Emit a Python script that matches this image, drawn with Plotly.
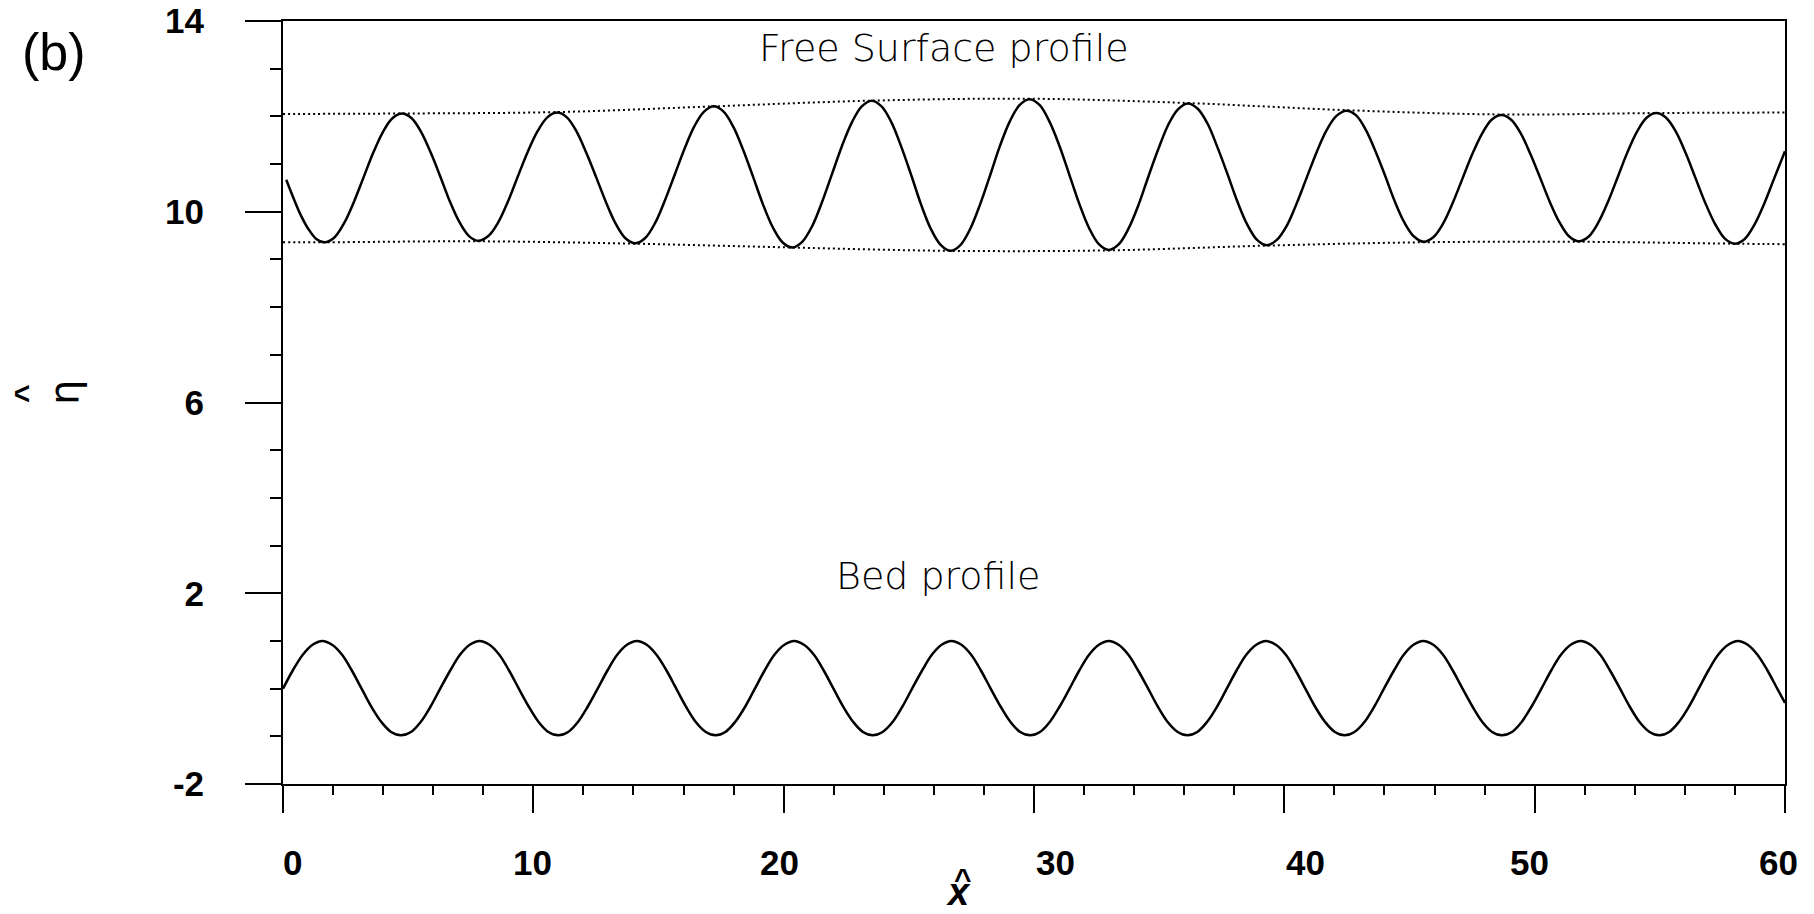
import plotly.graph_objects as go

# ---------------- data ----------------
# Free-surface profile (x-hat, eta-hat)
surf_x = [0.13, 0.40, 0.70, 1.00, 1.33, 1.66,
          2.05, 2.44, 2.82, 3.21, 3.60, 3.99, 4.37, 4.76,
          5.14, 5.52, 5.90, 6.29, 6.67, 7.05, 7.43, 7.81,
          8.20, 8.60, 8.99, 9.38, 9.77, 10.17, 10.56, 10.95,
          11.34, 11.73, 12.12, 12.52, 12.91, 13.30, 13.69, 14.08,
          14.47, 14.86, 15.25, 15.65, 16.04, 16.43, 16.82, 17.21,
          17.60, 17.99, 18.38, 18.78, 19.17, 19.56, 19.95, 20.34,
          20.74, 21.14, 21.53, 21.93, 22.33, 22.73, 23.12, 23.52,
          23.91, 24.31, 24.70, 25.10, 25.49, 25.88, 26.28, 26.67,
          27.06, 27.46, 27.85, 28.25, 28.64, 29.03, 29.43, 29.82,
          30.22, 30.61, 31.01, 31.41, 31.80, 32.20, 32.59, 32.99,
          33.39, 33.78, 34.18, 34.57, 34.97, 35.36, 35.76, 36.15,
          36.54, 36.94, 37.33, 37.73, 38.12, 38.51, 38.91, 39.30,
          39.70, 40.10, 40.49, 40.89, 41.29, 41.69, 42.08, 42.48,
          42.87, 43.25, 43.64, 44.03, 44.41, 44.80, 45.18, 45.57,
          45.96, 46.35, 46.73, 47.12, 47.51, 47.90, 48.28, 48.67,
          49.06, 49.45, 49.83, 50.22, 50.61, 51.00, 51.38, 51.77,
          52.16, 52.54, 52.93, 53.32, 53.70, 54.09, 54.47, 54.86,
          55.25, 55.65, 56.04, 56.43, 56.82, 57.22, 57.61, 58.00,
          58.39, 58.78, 59.17, 59.56, 60.00]
surf_y = [10.67, 10.31, 9.94, 9.65, 9.43, 9.36,
          9.46, 9.76, 10.19, 10.71, 11.23, 11.67, 11.96, 12.06,
          11.96, 11.67, 11.24, 10.73, 10.21, 9.78, 9.49, 9.39,
          9.49, 9.78, 10.22, 10.74, 11.25, 11.69, 11.98, 12.08,
          11.98, 11.68, 11.23, 10.71, 10.19, 9.74, 9.44, 9.34,
          9.45, 9.76, 10.23, 10.78, 11.32, 11.79, 12.10, 12.21,
          12.10, 11.78, 11.30, 10.73, 10.16, 9.68, 9.36, 9.25,
          9.37, 9.70, 10.20, 10.79, 11.38, 11.88, 12.21, 12.33,
          12.21, 11.87, 11.36, 10.76, 10.15, 9.64, 9.30, 9.18,
          9.30, 9.65, 10.16, 10.77, 11.38, 11.89, 12.24, 12.36,
          12.24, 11.90, 11.39, 10.78, 10.18, 9.66, 9.32, 9.20,
          9.32, 9.65, 10.15, 10.74, 11.32, 11.82, 12.15, 12.27,
          12.16, 11.84, 11.35, 10.79, 10.22, 9.74, 9.41, 9.30,
          9.41, 9.71, 10.17, 10.71, 11.25, 11.71, 12.01, 12.12,
          12.02, 11.72, 11.27, 10.75, 10.22, 9.77, 9.48, 9.37,
          9.47, 9.76, 10.19, 10.70, 11.21, 11.64, 11.93, 12.03,
          11.93, 11.64, 11.21, 10.71, 10.20, 9.77, 9.48, 9.38,
          9.48, 9.77, 10.21, 10.73, 11.24, 11.68, 11.97, 12.07,
          11.97, 11.67, 11.22, 10.70, 10.18, 9.73, 9.43, 9.33,
          9.43, 9.73, 10.17, 10.69, 11.27]

# Bed profile
bed_x = [0.00, 0.39, 0.79, 1.18, 1.57, 1.96, 2.36, 2.75, 3.14, 3.53, 3.93, 4.32, 4.71, 5.11, 5.50, 5.89,
         6.28, 6.68, 7.07, 7.46, 7.85, 8.25, 8.64, 9.03, 9.42, 9.82, 10.21, 10.60, 11.00, 11.39, 11.78, 12.17,
         12.57, 12.96, 13.35, 13.74, 14.14, 14.53, 14.92, 15.32, 15.71, 16.10, 16.49, 16.89, 17.28, 17.67, 18.06, 18.46,
         18.85, 19.24, 19.63, 20.03, 20.42, 20.81, 21.21, 21.60, 21.99, 22.38, 22.78, 23.17, 23.56, 23.95, 24.35, 24.74,
         25.13, 25.53, 25.92, 26.31, 26.70, 27.10, 27.49, 27.88, 28.27, 28.67, 29.06, 29.45, 29.85, 30.24, 30.63, 31.02,
         31.42, 31.81, 32.20, 32.59, 32.99, 33.38, 33.77, 34.16, 34.56, 34.95, 35.34, 35.74, 36.13, 36.52, 36.91, 37.31,
         37.70, 38.09, 38.48, 38.88, 39.27, 39.66, 40.06, 40.45, 40.84, 41.23, 41.63, 42.02, 42.41, 42.80, 43.20, 43.59,
         43.98, 44.38, 44.77, 45.16, 45.55, 45.95, 46.34, 46.73, 47.12, 47.52, 47.91, 48.30, 48.69, 49.09, 49.48, 49.87,
         50.27, 50.66, 51.05, 51.44, 51.84, 52.23, 52.62, 53.01, 53.41, 53.80, 54.19, 54.59, 54.98, 55.37, 55.76, 56.16,
         56.55, 56.94, 57.33, 57.73, 58.12, 58.51, 58.90, 59.30, 59.69, 60.00]
bed_y = [0.00, 0.38, 0.71, 0.92, 1.00, 0.92, 0.71, 0.38, 0.00, -0.38, -0.70, -0.91, -0.98, -0.91, -0.70, -0.38,
         0.00, 0.38, 0.71, 0.92, 1.00, 0.92, 0.71, 0.38, 0.00, -0.38, -0.70, -0.91, -0.98, -0.91, -0.70, -0.38,
         0.00, 0.38, 0.71, 0.92, 1.00, 0.92, 0.71, 0.38, 0.00, -0.38, -0.70, -0.91, -0.98, -0.91, -0.70, -0.38,
         0.00, 0.38, 0.71, 0.92, 1.00, 0.92, 0.71, 0.38, 0.00, -0.38, -0.70, -0.91, -0.98, -0.91, -0.70, -0.38,
         0.00, 0.38, 0.71, 0.92, 1.00, 0.92, 0.71, 0.38, 0.00, -0.38, -0.70, -0.91, -0.98, -0.91, -0.70, -0.38,
         0.00, 0.38, 0.71, 0.92, 1.00, 0.92, 0.71, 0.38, 0.00, -0.38, -0.70, -0.91, -0.98, -0.91, -0.70, -0.38,
         0.00, 0.38, 0.71, 0.92, 1.00, 0.92, 0.71, 0.38, 0.00, -0.38, -0.70, -0.91, -0.98, -0.91, -0.70, -0.38,
         0.00, 0.38, 0.71, 0.92, 1.00, 0.92, 0.71, 0.38, 0.00, -0.38, -0.70, -0.91, -0.98, -0.91, -0.70, -0.38,
         0.00, 0.38, 0.71, 0.92, 1.00, 0.92, 0.71, 0.38, 0.00, -0.38, -0.70, -0.91, -0.98, -0.91, -0.70, -0.38,
         0.00, 0.38, 0.71, 0.92, 1.00, 0.92, 0.71, 0.38, 0.00, -0.30]

# Dotted envelopes of the free surface
env_up_x = [0.0, 4.76, 10.95, 17.21, 23.52, 29.82, 36.15, 42.48, 48.67, 54.86, 60.0]
env_up_y = [12.05, 12.06, 12.09, 12.21, 12.33, 12.37, 12.28, 12.13, 12.04, 12.07, 12.08]
env_lo_x = [0.0, 1.66, 7.81, 14.08, 20.34, 26.67, 32.99, 39.30, 45.57, 51.77, 58.00, 60.0]
env_lo_y = [9.36, 9.36, 9.38, 9.33, 9.25, 9.18, 9.19, 9.29, 9.36, 9.37, 9.33, 9.32]

# Axis ticks / labels
x_tick_vals = [0, 10, 20, 30, 40, 50, 60]
x_tick_text = ["0", "10", "20", "30", "40", "50", "60"]
y_tick_vals = [-2, 2, 6, 10, 14]
y_tick_text = ["-2", "2", "6", "10", "14"]

# label placement (styling, kept separate from data)
x_label_pos = [0.37, 9.95, 19.85, 30.85, 40.85, 49.8, 59.75]

W, H = 1814, 914
ML, MR, MT, MB = 283, 29, 21, 130

fig = go.Figure()
line_style = dict(color="black", width=2.5, shape="spline", smoothing=1)
dot_style = dict(color="black", width=2, dash="2px,3px", shape="spline", smoothing=1)

fig.add_trace(go.Scatter(x=env_up_x, y=env_up_y, mode="lines", line=dot_style, hoverinfo="skip"))
fig.add_trace(go.Scatter(x=env_lo_x, y=env_lo_y, mode="lines", line=dot_style, hoverinfo="skip"))
fig.add_trace(go.Scatter(x=surf_x, y=surf_y, mode="lines", line=line_style))
fig.add_trace(go.Scatter(x=bed_x, y=bed_y, mode="lines", line=line_style))

tick_font = dict(family="Liberation Sans, Arial, sans-serif", size=35, color="black", weight="bold")

fig.update_layout(
    width=W, height=H,
    margin=dict(l=ML, r=MR, t=MT, b=MB, pad=0, autoexpand=False),
    paper_bgcolor="white", plot_bgcolor="white",
    showlegend=False,
    xaxis=dict(
        range=[0, 60], showgrid=False, zeroline=False, automargin=False,
        showline=True, linecolor="black", linewidth=2, mirror=True,
        ticks="outside", ticklen=27, tickwidth=2, tickcolor="black",
        tickvals=x_tick_vals, showticklabels=False,
        minor=dict(ticks="outside", ticklen=9, tickwidth=2, tickcolor="black",
                   tick0=0, dtick=2, showgrid=False),
    ),
    yaxis=dict(
        range=[-2, 14], showgrid=False, zeroline=False, automargin=False,
        showline=True, linecolor="black", linewidth=2, mirror=True,
        ticks="outside", ticklen=36, tickwidth=2, tickcolor="black",
        tickvals=y_tick_vals, ticktext=y_tick_text, tickfont=tick_font,
        ticklabelstandoff=34,
        minor=dict(ticks="outside", ticklen=11, tickwidth=2, tickcolor="black",
                   tick0=-2, dtick=1, showgrid=False),
    ),
)

pw = W - ML - MR
ph = H - MT - MB


def px_to_paper(px, py):
    return (px - ML) / pw, (H - MB - py) / ph


ann = []
# x tick labels
for xv, txt in zip(x_label_pos, x_tick_text):
    ann.append(dict(x=xv, xref="x", y=px_to_paper(0, 862)[1], yref="paper",
                    text=txt, showarrow=False, xanchor="center", yanchor="middle",
                    font=tick_font))

text_font = dict(family="DejaVu Sans, sans-serif", size=38, color="black", weight=300)
ann.append(dict(x=26.39, y=13.43, xref="x", yref="y", text="Free Surface profile",
                showarrow=False, xanchor="center", yanchor="middle", font=text_font))
ann.append(dict(x=26.19, y=2.37, xref="x", yref="y", text="Bed profile",
                showarrow=False, xanchor="center", yanchor="middle", font=text_font))

bx, by = px_to_paper(54, 52)
ann.append(dict(x=bx, y=by, xref="paper", yref="paper", text="(b)", showarrow=False,
                xanchor="center", yanchor="middle",
                font=dict(family="Liberation Sans, Arial, sans-serif", size=52, color="black")))

# x-axis title: bold italic x with a hat
xx, xy = px_to_paper(958, 892)
ann.append(dict(x=xx, y=xy, xref="paper", yref="paper", text="<b><i>x</i></b>", showarrow=False,
                xanchor="center", yanchor="middle",
                font=dict(family="Liberation Sans, Arial, sans-serif", size=38, color="black")))
hx, hy = px_to_paper(963, 878)
ann.append(dict(x=hx, y=hy, xref="paper", yref="paper", text="<b>^</b>", showarrow=False,
                xanchor="center", yanchor="middle",
                font=dict(family="Liberation Sans, Arial, sans-serif", size=30, color="black")))

# y-axis title: eta with a hat (rotated)
ex, ey = px_to_paper(64, 393)
ann.append(dict(x=ex, y=ey, xref="paper", yref="paper", text="η", showarrow=False,
                xanchor="center", yanchor="middle", textangle=-90,
                font=dict(family="DejaVu Sans, sans-serif", size=40, color="black")))
gx, gy = px_to_paper(26, 394)
ann.append(dict(x=gx, y=gy, xref="paper", yref="paper", text="<b>^</b>", showarrow=False,
                xanchor="center", yanchor="middle", textangle=-90,
                font=dict(family="Liberation Sans, Arial, sans-serif", size=32, color="black")))

fig.update_layout(annotations=ann)

fig.write_html("out.html", config={"displayModeBar": False},
               post_script="document.body.style.margin='0';document.body.style.overflow='hidden';")
